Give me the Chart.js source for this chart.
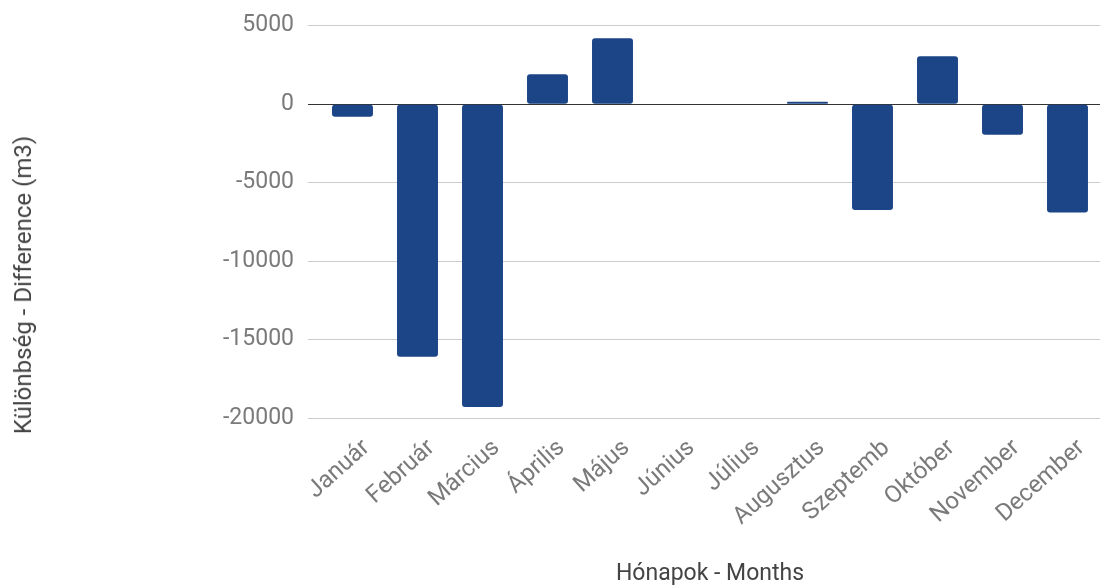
<!DOCTYPE html>
<html>
<head>
<meta charset="utf-8">
<script src="https://cdn.jsdelivr.net/npm/chart.js@4/dist/chart.umd.min.js"></script>
<style>
    html, body { margin: 0; padding: 0; background: #fff; }
    #wrap { position: relative; width: 1100px; height: 588px; overflow: hidden; }
    #yTitle {
        position: absolute;
        left: 23px;
        top: 285px;
        transform: translate(-50%, -50%) rotate(-90deg);
        white-space: nowrap;
        font: 24px Roboto, sans-serif;
        color: #444;
    }
</style>
</head>
<body>
<div id="wrap">
    <canvas id="diffChart" width="1100" height="588"></canvas>
    <div id="yTitle">Különbség - Difference (m3)</div>
</div>
<script>
const months = ['Január', 'Február', 'Március', 'Április', 'Május', 'Június', 'Július', 'Augusztus', 'Szeptemb', 'Október', 'November', 'December'];
const differences = [-800, -16100, -19300, 1900, 4200, -30, -30, 150, -6750, 3050, -1950, -6900];
const yTickValues = [-20000, -15000, -10000, -5000, 0, 5000];

document.addEventListener('DOMContentLoaded', () => {

    const ctx = document.getElementById('diffChart').getContext('2d');
    new Chart(ctx, {
        type: 'bar',
        data: {
            labels: months,
            datasets: [{
                label: 'Különbség',
                data: differences,
                backgroundColor: '#1c4587',
                borderRadius: 3,
                borderSkipped: false,
                barPercentage: 0.63,
                categoryPercentage: 1.0
            }]
        },
        options: {
            responsive: false,
            animation: false,
            layout: {
                padding: 0
            },
            plugins: {
                legend: { display: false },
                tooltip: { enabled: false }
            },
            scales: {
                y: {
                    min: -20000,
                    max: 6640,
                    afterBuildTicks: (scale) => {
                        scale.ticks = yTickValues.map(v => ({ value: v }));
                    },
                    afterFit: (scale) => {
                        scale.width = 320;
                        scale.paddingTop = 0;
                        scale.paddingBottom = 0;
                    },
                    border: { display: false },
                    grid: {
                        color: (c) => c.tick && c.tick.value === 0 ? '#333333' : '#cccccc',
                        tickColor: (c) => c.tick && c.tick.value === 0 ? '#333333' : '#cccccc',
                        tickLength: 12,
                        lineWidth: 1
                    },
                    ticks: {
                        padding: 14,
                        color: '#7a7a7a',
                        font: { family: 'Roboto', size: 23 },
                        callback: (v) => String(v)
                    }
                },
                x: {
                    afterFit: (scale) => {
                        scale.height = 170;
                        scale.paddingLeft = 0;
                        scale.paddingRight = 0;
                    },
                    border: { display: false },
                    grid: { display: false },
                    ticks: {
                        minRotation: 42,
                        maxRotation: 42,
                        padding: 8,
                        labelOffset: 14,
                        color: '#7a7a7a',
                        font: { family: 'Roboto', size: 24 }
                    },
                    title: {
                        display: true,
                        text: 'Hónapok - Months',
                        color: '#444444',
                        font: { family: 'Roboto', size: 23 },
                        padding: { top: 0, bottom: 0 }
                    }
                }
            }
        }
    });

});
</script>
</body>
</html>
